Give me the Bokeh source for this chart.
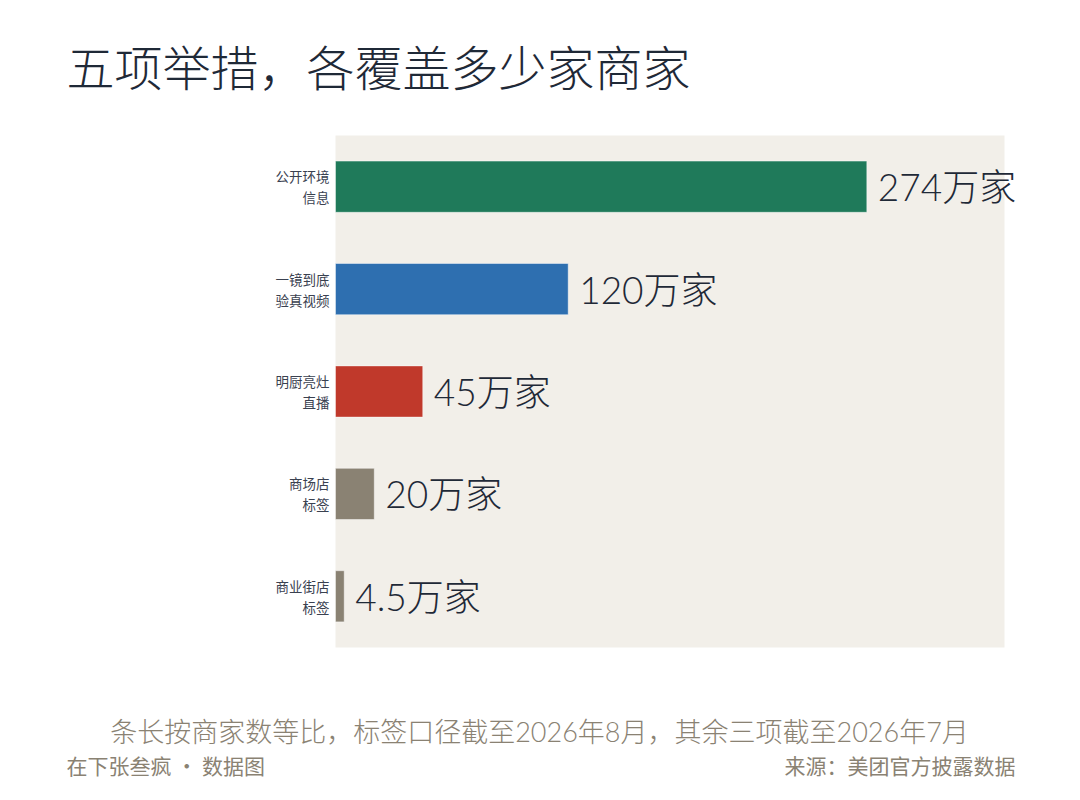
from bokeh.plotting import figure
from bokeh.models import Label, ColumnDataSource, Range1d, BoxAnnotation
from bokeh.embed import file_html
from bokeh.resources import INLINE
from bokeh.core.properties import value

categories = ["公开环境\n信息", "一镜到底\n验真视频", "明厨亮灶\n直播", "商场店\n标签", "商业街店\n标签"]
values = [274, 120, 45, 20, 4.5]
value_labels = ["274万家", "120万家", "45万家", "20万家", "4.5万家"]
colors = ["#1f7a5a", "#2e6fb0", "#c0392b", "#8a8273", "#8a8273"]
axis_max = 345

title_text = "五项举措，各覆盖多少家商家"
note_text = "条长按商家数等比，标签口径截至2026年8月，其余三项截至2026年7月"
credit_text = "在下张叁疯 · 数据图"
source_text = "来源：美团官方披露数据"

FONT = "Lato, 'Noto Sans CJK SC', sans-serif"
LIGHT = "'Noto Sans CJK SC Light', 'Noto Sans CJK SC DemiLight', 'Noto Sans CJK SC', sans-serif"
LIGHT_NUM = "'Lato Light', 'Noto Sans CJK SC Light', 'Noto Sans CJK SC DemiLight', Lato, 'Noto Sans CJK SC', sans-serif"
CJK = "'Noto Sans CJK SC', sans-serif"

W, H = 1064, 784
# plot panel placement (pixels on canvas)
PL, PR, PT, PB = 335, 1004, 135, 647
n = len(categories)
xs = (PR - PL) / axis_max          # px per unit
ys = (PB - PT) / n                 # px per category band

pos = [i + 0.5 for i in range(n)]
src = ColumnDataSource(dict(cat=categories, y=pos, val=values, lab=value_labels, col=colors,
                            zero=[0] * n))

p = figure(width=W, height=H, output_backend="svg", toolbar_location=None,
           x_range=Range1d(-PL / xs, (W - PL) / xs),
           y_range=Range1d(n + (H - PB) / ys, -PT / ys),
           min_border=0)
p.axis.visible = False
p.grid.visible = False
p.outline_line_color = None
p.background_fill_color = "white"
p.border_fill_color = "white"

p.add_layout(BoxAnnotation(left=0, right=axis_max, top=0, bottom=n,
                           fill_color="#f2efe9", fill_alpha=1, line_color=None, level="underlay"))

p.hbar(y="y", right="val", left=0, height=0.5, source=src, fill_color="col",
       line_color="white", line_alpha=0.45, line_width=1)
p.text(x="val", y="y", text="lab", source=src, x_offset=11,
       text_baseline="middle", text_align="left", text_font=value(LIGHT_NUM),
       text_font_size="37px", text_color="#1f2937")
p.text(x="zero", y="y", text="cat", source=src, x_offset=-6,
       text_baseline="middle", text_align="right", text_font=value(CJK),
       text_font_size="13.5px", text_color="#3a4150", text_line_height=1.05)

# title & footer (screen units: x from left, y from bottom of canvas)
p.add_layout(Label(x=66, y=H - 64, x_units="screen", y_units="screen", text=title_text,
                   text_font=LIGHT, text_font_size="48px", text_color="#1f2937",
                   text_baseline="middle", text_align="left"))
p.add_layout(Label(x=539, y=H - 731, x_units="screen", y_units="screen", text=note_text,
                   text_font=LIGHT_NUM, text_font_size="27px", text_color="#8a8273",
                   text_baseline="middle", text_align="center"))
p.add_layout(Label(x=66, y=H - 764, x_units="screen", y_units="screen", text=credit_text,
                   text_font=CJK, text_font_size="21px", text_color="#8a8273",
                   text_baseline="middle", text_align="left"))
p.add_layout(Label(x=1015, y=H - 764, x_units="screen", y_units="screen", text=source_text,
                   text_font=CJK, text_font_size="21px", text_color="#8a8273",
                   text_baseline="middle", text_align="right"))

open("out.html", "w").write(file_html(p, INLINE))
